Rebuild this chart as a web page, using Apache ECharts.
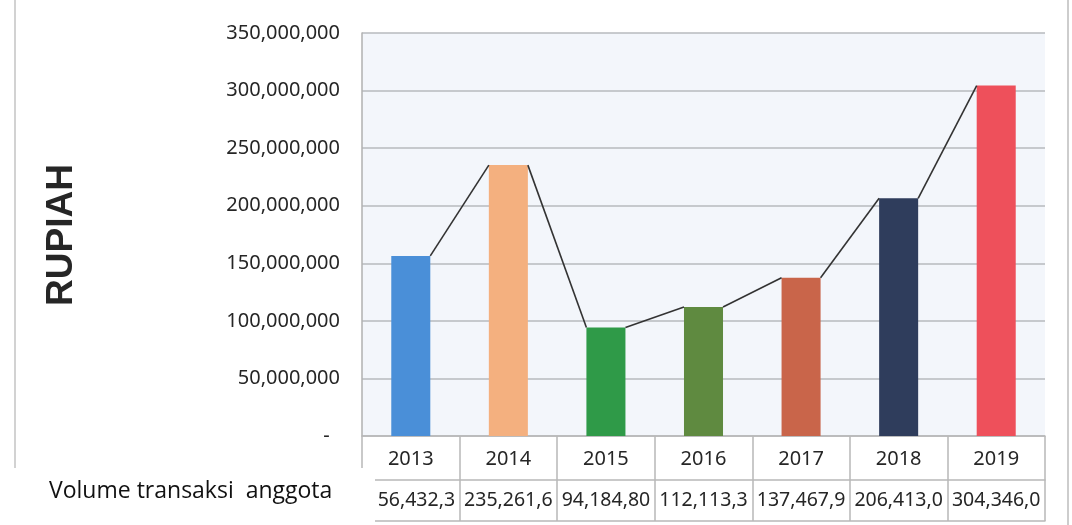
<!DOCTYPE html>
<html>
<head>
<meta charset="utf-8">
<script src="https://cdn.jsdelivr.net/npm/echarts@6/dist/echarts.min.js"></script>
<style>
html,body{margin:0;padding:0;background:#fff;}
#chart{width:1072px;height:525px;}
</style>
</head>
<body>
<div id="chart"></div>
<script>
// ---- data ----
var years = ['2013', '2014', '2015', '2016', '2017', '2018', '2019'];
var values = [156432300, 235261600, 94184800, 112113300, 137467900, 206413000, 304346000];
var tableLabels = ['156,432,3', '235,261,6', '94,184,80', '112,113,3', '137,467,9', '206,413,0', '304,346,0'];
var barColors = ['#4a8fd8', '#f4b07f', '#2f9a48', '#5f8a40', '#c9654a', '#2f3d5c', '#ee505b'];
var yMax = 350000000;
var yStep = 50000000;
var axisTitle = 'RUPIAH';
var boxLabel = 'Volume transaksi  anggota';

function fmt(v) {
  if (v === 0) return '-  ';
  return String(v).replace(/\B(?=(\d{3})+(?!\d))/g, ',');
}

var lineData = [];
for (var i = 0; i < values.length - 1; i++) {
  lineData.push([i, values[i], values[i + 1]]);
}

var numFont = '"Noto Sans", sans-serif';
var gridGray = '#b7babe';
var tableGray = '#b8b8b8';

var chart = echarts.init(document.getElementById('chart'), null, {renderer: 'canvas'});
chart.setOption({
  animation: false,
  backgroundColor: '#ffffff',
  grid: {
    left: 362, right: 27, top: 33, bottom: 89,
    show: true, backgroundColor: '#f3f6fb', borderWidth: 0
  },
  xAxis: [
    {
      type: 'category', data: years, position: 'bottom',
      axisLine: {show: true, lineStyle: {color: tableGray, width: 1.5}},
      axisTick: {show: true, interval: 0, length: 85, alignWithLabel: false, lineStyle: {color: tableGray, width: 1.5}},
      axisLabel: {interval: 0, margin: 23, verticalAlign: 'middle', fontFamily: numFont, fontSize: 20, color: '#262626'},
      splitLine: {show: false}
    },
    {
      type: 'category', data: tableLabels, position: 'bottom', offset: 44,
      axisLine: {show: true, lineStyle: {color: tableGray, width: 1.5}},
      axisTick: {show: false},
      axisLabel: {interval: 0, margin: 20, verticalAlign: 'middle', fontFamily: numFont, fontSize: 19.5, color: '#262626'},
      splitLine: {show: false}
    },
    {
      type: 'category', data: years, position: 'bottom', offset: 85,
      axisLine: {show: true, lineStyle: {color: tableGray, width: 1.5}},
      axisTick: {show: false},
      axisLabel: {show: false},
      splitLine: {show: false}
    }
  ],
  yAxis: {
    type: 'value', min: 0, max: yMax, interval: yStep,
    axisLine: {show: true, lineStyle: {color: '#b0b0b0', width: 1.5}},
    axisTick: {show: false},
    axisLabel: {margin: 22, fontFamily: numFont, fontSize: 20, color: '#262626', formatter: fmt},
    splitLine: {show: true, lineStyle: {color: gridGray, width: 1.5}}
  },
  series: [
    {
      type: 'bar', xAxisIndex: 0, barWidth: '40%',
      data: values.map(function (v, i) { return {value: v, itemStyle: {color: barColors[i]}}; }),
      z: 2
    },
    {
      type: 'custom', xAxisIndex: 0, z: 3,
      data: lineData,
      encode: {x: 0, y: 1},
      renderItem: function (params, api) {
        var i = api.value(0);
        var p0 = api.coord([i, api.value(1)]);
        var p1 = api.coord([i + 1, api.value(2)]);
        var hw = api.size([1, 0])[0] * 0.4 / 2;
        return {
          type: 'line',
          shape: {x1: p0[0] + hw, y1: p0[1], x2: p1[0] - hw, y2: p1[1]},
          style: {stroke: '#333333', lineWidth: 1.6}
        };
      }
    }
  ],
  graphic: [
    {type: 'line', shape: {x1: 15, y1: 0, x2: 15, y2: 468}, style: {stroke: '#d2d2d2', lineWidth: 2}, z: 50},
    {type: 'line', shape: {x1: 1068, y1: 0, x2: 1068, y2: 525}, style: {stroke: '#bdbdbd', lineWidth: 1.5}, z: 50},
    {
      type: 'text', x: 62, y: 235, rotation: Math.PI / 2, z: 50,
      style: {text: axisTitle, font: 'bold 37px "Liberation Sans", Arial, sans-serif', fill: '#262626', align: 'center', verticalAlign: 'middle'}
    },
    {type: 'rect', shape: {x: 14, y: 468, width: 361, height: 57}, style: {fill: '#ffffff'}, z: 100},
    {
      type: 'text', x: 49, y: 491, z: 101,
      style: {text: boxLabel, font: '23px "Open Sans", sans-serif', fill: '#111111', align: 'left', verticalAlign: 'middle'}
    }
  ]
});
</script>
</body>
</html>
